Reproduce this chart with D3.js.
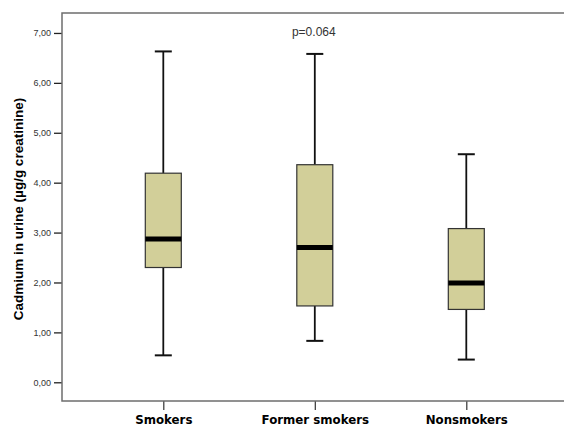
<!DOCTYPE html>
<html>
<head>
<meta charset="utf-8">
<script src="https://cdn.jsdelivr.net/npm/d3@7"></script>
<style>
  html, body { margin: 0; padding: 0; background: #fff; }
  svg { display: block; }
</style>
</head>
<body>
<svg id="chart" width="565" height="427"></svg>
<script>
// Urinary cadmium by smoking status (box plot summary statistics)
const categories = ["Smokers", "Former smokers", "Nonsmokers"];
const whiskerLow = [0.54, 0.83, 0.455];
const q1         = [2.30, 1.53, 1.46];
const medians    = [2.87, 2.70, 1.99];
const q3         = [4.19, 4.36, 3.08];
const whiskerHigh= [6.63, 6.58, 4.57];
const yTicks = [0, 1, 2, 3, 4, 5, 6, 7];
const yTitle = "Cadmium in urine (µg/g creatinine)";
const pLabel = "p=0.064";

const svg = d3.select("#chart");
const plotLeft = 62, plotRight = 564, plotTop = 13, plotBottom = 401;

const y = d3.scaleLinear().domain([-0.375, 7.40]).range([plotBottom, plotTop]);
const x = d3.scalePoint().domain(categories).range([163.3, 466.3]);

const fmt = v => d3.format(".2f")(v).replace(".", ",");

// y axis
const yAxis = svg.append("g")
  .attr("transform", `translate(${plotLeft},0)`)
  .call(d3.axisLeft(y).tickValues(yTicks).tickFormat(fmt).tickSize(8).tickPadding(3));
yAxis.select(".domain").remove();
yAxis.selectAll(".tick line").attr("stroke", "#222").attr("stroke-width", 1.3);
yAxis.selectAll(".tick text")
  .attr("fill", "#333")
  .style("font-family", "'Liberation Sans', Arial, sans-serif")
  .style("font-size", "9px");

// x axis
const xAxis = svg.append("g")
  .attr("transform", `translate(0,${plotBottom})`)
  .call(d3.axisBottom(x).tickSize(9).tickPadding(6));
xAxis.select(".domain").remove();
xAxis.selectAll(".tick line").attr("stroke", "#333").attr("stroke-width", 1.2);
xAxis.selectAll(".tick text")
  .attr("fill", "#000")
  .style("font-family", "'DejaVu Sans', Verdana, sans-serif")
  .style("font-weight", "bold")
  .style("font-size", "11.8px");

// frame: left, top, bottom
svg.append("path")
  .attr("d", `M${plotRight},${plotTop}H${plotLeft}V${plotBottom}H${plotRight}`)
  .attr("fill", "none")
  .attr("stroke", "#6e6e6e")
  .attr("stroke-width", 1.5);

// boxes
const boxW = 36, capW = 17;
const data = categories.map((c, i) => ({
  c, lo: whiskerLow[i], q1: q1[i], med: medians[i], q3: q3[i], hi: whiskerHigh[i]
}));

const g = svg.append("g").selectAll("g").data(data).join("g")
  .attr("transform", d => `translate(${x(d.c)},0)`);

g.append("line")
  .attr("y1", d => y(d.hi)).attr("y2", d => y(d.q3))
  .attr("stroke", "#111").attr("stroke-width", 1.8);
g.append("line")
  .attr("y1", d => y(d.q1)).attr("y2", d => y(d.lo))
  .attr("stroke", "#111").attr("stroke-width", 1.8);
g.append("line")
  .attr("x1", -capW / 2).attr("x2", capW / 2)
  .attr("y1", d => y(d.hi)).attr("y2", d => y(d.hi))
  .attr("stroke", "#111").attr("stroke-width", 2);
g.append("line")
  .attr("x1", -capW / 2).attr("x2", capW / 2)
  .attr("y1", d => y(d.lo)).attr("y2", d => y(d.lo))
  .attr("stroke", "#111").attr("stroke-width", 2);
g.append("rect")
  .attr("x", -boxW / 2).attr("width", boxW)
  .attr("y", d => y(d.q3)).attr("height", d => y(d.q1) - y(d.q3))
  .attr("fill", "#d2cf99").attr("stroke", "#333").attr("stroke-width", 1.2);
g.append("line")
  .attr("x1", -boxW / 2).attr("x2", boxW / 2)
  .attr("y1", d => y(d.med)).attr("y2", d => y(d.med))
  .attr("stroke", "#000").attr("stroke-width", 5);

// y axis title
svg.append("text")
  .attr("transform", `translate(22.5,209) rotate(-90)`)
  .attr("text-anchor", "middle")
  .style("font-family", "'Liberation Sans', Arial, sans-serif")
  .style("font-weight", "bold")
  .style("font-size", "13.5px")
  .attr("fill", "#000")
  .text(yTitle);

// significance label
svg.append("text")
  .attr("x", x(categories[1]) - 1)
  .attr("y", 36)
  .attr("text-anchor", "middle")
  .style("font-family", "'Liberation Sans', Arial, sans-serif")
  .style("font-size", "12px")
  .attr("fill", "#333")
  .text(pLabel);
</script>
</body>
</html>
